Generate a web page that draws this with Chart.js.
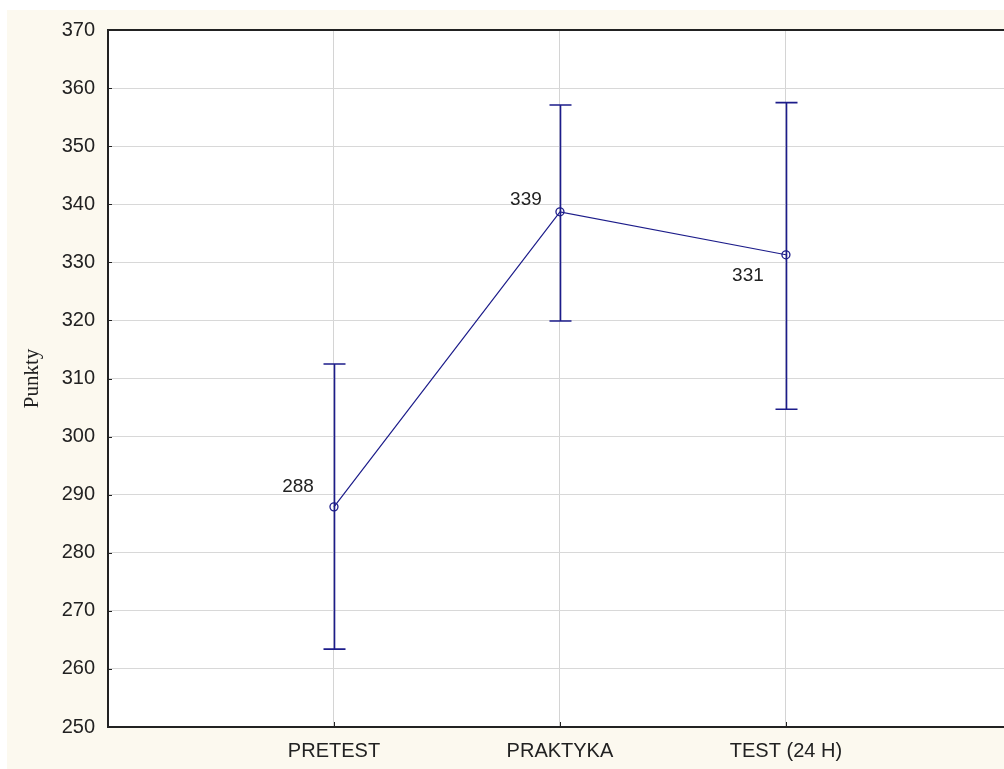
<!DOCTYPE html>
<html>
<head>
<meta charset="utf-8">
<script src="https://cdn.jsdelivr.net/npm/chart.js@4/dist/chart.umd.min.js"></script>
<style>
  html, body { margin: 0; padding: 0; background: #ffffff; overflow: hidden; width: 1004px; height: 769px; }
  canvas { display: block; }
</style>
</head>
<body>
<canvas id="chart" width="1004" height="769"></canvas>
<script>
// Mean score per stage with the interval around it
const categories = ['PRETEST', 'PRAKTYKA', 'TEST (24 H)'];
const means = [287.9, 338.7, 331.3];
const lower = [263.4, 319.9, 304.7];
const upper = [312.5, 357.1, 357.5];
const yMin = 250;
const yMax = 370;
const yStep = 10;

const NAVY = '#1c1c8a';
const TEXT = '#222222';
const SANS = '"Liberation Sans", Arial, sans-serif';

// Where each value label sits relative to its point (px)
const labelOffsets = [[-36, -20], [-34, -12], [-38, 21]];

const points = means.map((v, i) => ({ x: i + 1, y: v }));

const framePlugin = {
  id: 'frame',
  beforeDraw(chart) {
    const { ctx, chartArea: a, width, height } = chart;
    ctx.save();
    ctx.fillStyle = '#ffffff';
    ctx.fillRect(0, 0, width, height);
    ctx.fillStyle = '#fcf9ef';
    ctx.fillRect(7, 10, width - 7, height - 10);
    ctx.fillStyle = '#ffffff';
    ctx.fillRect(a.left, a.top, a.right - a.left, a.bottom - a.top);
    ctx.restore();
  },
  beforeDatasetsDraw(chart) {
    const { ctx, chartArea: a, scales } = chart;
    const xs = scales.x, ys = scales.y;
    ctx.save();
    // frame: left, top, bottom
    ctx.strokeStyle = '#222222';
    ctx.lineWidth = 2;
    ctx.beginPath();
    ctx.moveTo(a.right, a.top);
    ctx.lineTo(a.left, a.top);
    ctx.lineTo(a.left, a.bottom);
    ctx.lineTo(a.right, a.bottom);
    ctx.stroke();
    // inner tick marks
    ctx.lineWidth = 1;
    ctx.beginPath();
    for (let v = yMin + yStep; v < yMax; v += yStep) {
      const y = Math.round(ys.getPixelForValue(v)) + 0.5;
      ctx.moveTo(a.left, y);
      ctx.lineTo(a.left + 4, y);
    }
    categories.forEach((c, i) => {
      const x = Math.round(xs.getPixelForValue(i + 1)) + 0.5;
      ctx.moveTo(x, a.bottom);
      ctx.lineTo(x, a.bottom - 5);
    });
    ctx.stroke();
    // interval whiskers
    ctx.strokeStyle = NAVY;
    ctx.lineWidth = 1.6;
    categories.forEach((c, i) => {
      const x = Math.round(xs.getPixelForValue(i + 1)) + 0.5;
      const yl = ys.getPixelForValue(lower[i]);
      const yh = ys.getPixelForValue(upper[i]);
      ctx.beginPath();
      ctx.moveTo(x, yl);
      ctx.lineTo(x, yh);
      ctx.moveTo(x - 11, yh);
      ctx.lineTo(x + 11, yh);
      ctx.moveTo(x - 11, yl);
      ctx.lineTo(x + 11, yl);
      ctx.stroke();
    });
    ctx.restore();
  },
  afterDatasetsDraw(chart) {
    const { ctx, scales } = chart;
    ctx.save();
    ctx.fillStyle = TEXT;
    ctx.font = '19px ' + SANS;
    ctx.textAlign = 'center';
    ctx.textBaseline = 'middle';
    means.forEach((v, i) => {
      const x = scales.x.getPixelForValue(i + 1);
      const y = scales.y.getPixelForValue(v);
      ctx.fillText(Math.round(v).toString(), x + labelOffsets[i][0], y + labelOffsets[i][1]);
    });
    ctx.restore();
  }
};

new Chart(document.getElementById('chart'), {
  type: 'line',
  data: {
    datasets: [{
      data: points,
      borderColor: NAVY,
      borderWidth: 1.2,
      pointRadius: 4,
      pointBorderWidth: 1.3,
      pointBorderColor: NAVY,
      pointBackgroundColor: 'rgba(255,255,255,0)',
      fill: false,
      tension: 0
    }]
  },
  options: {
    responsive: false,
    animation: false,
    devicePixelRatio: 1,
    layout: { autoPadding: false, padding: { top: 30, right: 0, left: 0, bottom: 0 } },
    plugins: { legend: { display: false }, tooltip: { enabled: false } },
    scales: {
      x: {
        type: 'linear',
        min: 0,
        max: 3.965,
        afterFit(scale) { scale.height = 42; scale.paddingRight = 0; scale.paddingLeft = 0; },
        afterBuildTicks(scale) {
          scale.ticks = categories.map((c, i) => ({ value: i + 1 }));
        },
        ticks: {
          autoSkip: false,
          maxRotation: 0,
          padding: 12,
          color: TEXT,
          font: { family: SANS, size: 20 },
          callback: v => categories[v - 1] || ''
        },
        grid: {
          drawTicks: false,
          color: '#d4d4d4',
          lineWidth: 1
        },
        border: { display: false }
      },
      y: {
        min: yMin,
        max: yMax,
        afterFit(scale) { scale.width = 108; },
        ticks: {
          stepSize: yStep,
          padding: 13,
          color: TEXT,
          font: { family: SANS, size: 20 }
        },
        grid: {
          drawTicks: false,
          color: ctx => (ctx.tick && (ctx.tick.value === yMin || ctx.tick.value === yMax)) ? 'rgba(0,0,0,0)' : '#d8d8d8',
          lineWidth: 1
        },
        border: { display: false },
        title: {
          display: true,
          text: 'Punkty',
          color: TEXT,
          font: { family: '"Liberation Serif", "Times New Roman", serif', size: 21, weight: 'normal' },
          padding: { top: 20, bottom: 0 }
        }
      }
    }
  },
  plugins: [framePlugin]
});
</script>
</body>
</html>
